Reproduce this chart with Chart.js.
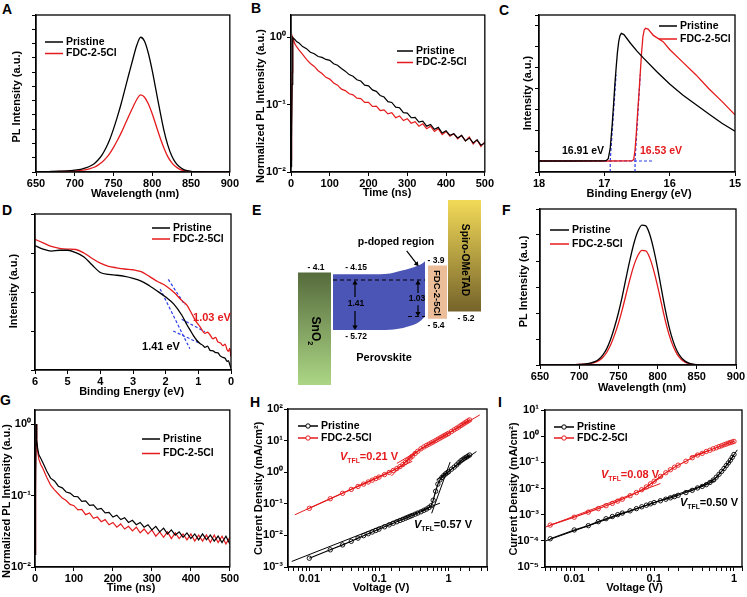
<!DOCTYPE html>
<html>
<head>
<meta charset="utf-8">
<title>FDC-2-5Cl panels</title>
<script src="https://cdn.jsdelivr.net/npm/chart.js@4.4.1/dist/chart.umd.min.js"></script>
<style>
  html, body { margin: 0; padding: 0; background: #fff; }
  body { position: relative; width: 747px; height: 597px; overflow: hidden; }
  canvas { position: absolute; }
  .tag { position: absolute; font: bold 14px/14px 'Liberation Sans', Arial, sans-serif; color: #000; }
</style>
</head>
<body>
<div class="tag" style="left:2px;top:2px">A</div>
<div class="tag" style="left:251px;top:1px">B</div>
<div class="tag" style="left:499px;top:3px">C</div>
<div class="tag" style="left:2px;top:203px">D</div>
<div class="tag" style="left:252px;top:203px">E</div>
<div class="tag" style="left:502px;top:203px">F</div>
<div class="tag" style="left:0px;top:393px">G</div>
<div class="tag" style="left:250px;top:395px">H</div>
<div class="tag" style="left:498px;top:395px">I</div>
<script>
// ---- data ----
const SERIES = ['Pristine', 'FDC-2-5Cl'];

// A / F: steady-state PL (wavelength, nm)
const WL = [650,660,670,680,690,700,705,710,715,720,725,730,735,740,745,750,755,760,765,770,775,780,785,790,795,800,805,810,815,820,825,830,835,840,845,850,855,860,870,880,890,900];
const PL_A_P = [0.01,0.01,0.02,0.03,0.04,0.066,0.085,0.113,0.15,0.21,0.29,0.42,0.59,0.83,1.13,1.51,1.94,2.41,2.93,3.45,3.96,4.44,4.72,4.58,4.15,3.54,2.83,2.12,1.46,0.94,0.57,0.33,0.18,0.094,0.047,0.024,0.014,0.009,0.005,0.003,0.002,0.002];
const PL_A_F = [0.006,0.006,0.011,0.017,0.023,0.038,0.049,0.065,0.086,0.12,0.166,0.24,0.338,0.476,0.647,0.865,1.11,1.38,1.68,1.98,2.27,2.54,2.70,2.62,2.38,2.03,1.62,1.21,0.84,0.54,0.33,0.19,0.10,0.054,0.027,0.014,0.008,0.005,0.003,0.002,0.001,0.001];
const PL_F_P = [0.001,0.002,0.003,0.006,0.012,0.025,0.035,0.05,0.08,0.13,0.22,0.38,0.62,0.98,1.45,2.0,2.65,3.38,4.08,4.70,5.15,5.38,5.35,5.02,4.45,3.72,2.90,2.10,1.42,0.90,0.53,0.29,0.15,0.07,0.032,0.015,0.007,0.004,0.002,0.001,0.001,0.001];
const PL_F_F = [0.001,0.002,0.003,0.005,0.01,0.02,0.028,0.04,0.065,0.10,0.17,0.29,0.48,0.77,1.15,1.60,2.14,2.74,3.33,3.85,4.22,4.41,4.39,4.12,3.64,3.03,2.35,1.69,1.13,0.71,0.41,0.22,0.11,0.05,0.023,0.011,0.005,0.003,0.001,0.001,0.001,0.001];

// B / G: TRPL (time, ns)
const T = [0,1,2,3,4,5,7,10,15,20,30,40,50,60,70,80,90,100,110,120,130,140,150,160,170,180,190,200,210,220,230,240,250,260,270,280,290,300,310,320,330,340,350,360,370,380,390,400,410,420,430,440,450,460,470,480,490,500];
const TR_B_P = [0.012,0.015,0.03,0.2,0.75,1.0,0.96,0.93,0.86,0.83,0.73,0.68,0.60,0.57,0.52,0.505,0.47,0.455,0.405,0.385,0.345,0.315,0.28,0.265,0.235,0.225,0.195,0.19,0.166,0.158,0.137,0.13,0.111,0.108,0.092,0.09,0.076,0.075,0.064,0.065,0.055,0.057,0.048,0.051,0.043,0.046,0.038,0.041,0.035,0.037,0.032,0.035,0.029,0.032,0.027,0.030,0.025,0.027];
const TR_B_F = [0.015,0.02,0.05,0.3,0.8,1.0,0.9,0.8,0.72,0.66,0.56,0.47,0.41,0.37,0.32,0.29,0.255,0.24,0.21,0.195,0.17,0.162,0.145,0.14,0.125,0.123,0.108,0.108,0.094,0.095,0.082,0.084,0.073,0.076,0.064,0.068,0.058,0.062,0.053,0.056,0.048,0.052,0.044,0.048,0.040,0.044,0.036,0.040,0.034,0.037,0.031,0.035,0.029,0.033,0.026,0.030,0.024,0.028];
const TR_G_P = [0.015,0.018,0.12,1.0,0.8,0.6,0.45,0.37,0.33,0.29,0.22,0.175,0.16,0.135,0.128,0.112,0.108,0.097,0.096,0.083,0.084,0.073,0.074,0.064,0.066,0.057,0.058,0.050,0.053,0.046,0.049,0.042,0.045,0.039,0.042,0.036,0.039,0.033,0.037,0.031,0.035,0.029,0.033,0.028,0.031,0.026,0.030,0.025,0.029,0.024,0.029,0.024,0.028,0.023,0.027,0.022,0.027,0.021];
const TR_G_F = [0.015,0.02,0.2,1.0,0.75,0.55,0.40,0.32,0.27,0.24,0.18,0.14,0.12,0.105,0.092,0.085,0.075,0.072,0.063,0.064,0.054,0.057,0.048,0.050,0.043,0.046,0.039,0.042,0.036,0.040,0.034,0.037,0.032,0.036,0.030,0.034,0.029,0.033,0.027,0.031,0.026,0.031,0.025,0.030,0.025,0.029,0.024,0.029,0.023,0.028,0.023,0.028,0.022,0.028,0.022,0.027,0.021,0.026];

// C: UPS cut-off (binding energy, eV)
const C_BE_P = [18,17.5,17.0,16.97,16.94,16.91,16.88,16.86,16.84,16.82,16.80,16.78,16.76,16.74,16.70,16.6,16.5,16.4,16.2,16.0,15.8,15.6,15.4,15.2,15.0];
const C_I_P = [0.07,0.07,0.071,0.074,0.085,0.15,0.30,0.42,0.55,0.66,0.76,0.83,0.87,0.883,0.875,0.82,0.77,0.725,0.64,0.56,0.49,0.43,0.37,0.31,0.26];
const C_BE_F = [18,17.0,16.6,16.57,16.55,16.53,16.51,16.49,16.47,16.45,16.43,16.41,16.39,16.37,16.33,16.25,16.1,16.0,15.8,15.6,15.4,15.2,15.0];
const C_I_F = [0.07,0.07,0.071,0.073,0.08,0.14,0.25,0.38,0.50,0.63,0.76,0.86,0.905,0.915,0.91,0.87,0.83,0.78,0.70,0.62,0.53,0.45,0.364];
const C_ONSET = [16.91, 16.53];
const C_BASE = 0.07;
const C_TAN_TOP = [[16.82, 0.62], [16.45, 0.62]];

// D: UPS valence region (binding energy, eV)
const D_BE = [6.0,5.75,5.5,5.25,5.0,4.75,4.5,4.25,4.0,3.75,3.5,3.25,3.0,2.75,2.5,2.25,2.0,1.75,1.5,1.35,1.25,1.15,1.05,0.95,0.85,0.8,0.72,0.64,0.55,0.47,0.40,0.33,0.25,0.18,0.12,0.08,0.04,0.0];
const D_I_P = [1549,1259,1122,1175,1175,1023,794,490,316,282,269,251,224,191,145,105,74,49,25,14.5,10.5,7.6,5.8,4.8,4.2,3.8,4.1,3.2,3.1,2.8,2.75,2.3,2.1,2.0,1.66,1.74,1.4,1.1];
const D_I_F = [2239,1820,1479,1318,1259,1230,1000,724,550,457,417,389,372,331,251,186,145,98,60,46,33,23,16.6,12.9,9.5,8.7,9.3,7.9,6.3,6.9,5.2,5.0,4.2,4.6,3.3,3.0,3.6,2.2];
const D_TAN = [
  [[2.17, 120], [1.26, 3.5]], [[1.77, 10], [0.95, 4.8]],
  [[1.92, 210], [1.41, 46.5]], [[1.51, 20], [0.80, 9.6]]
];

// E: energy levels (eV)
const E_SNO2 = [-4.1, -7.27];
const E_PVK = [-4.15, -5.72];
const E_FDC = [-3.9, -5.4];
const E_SPIRO = [-2.06, -5.2];
const E_BAND_CB = [-4.15,-4.15,-4.13,-4.08,-4.04,-4.0,-3.96,-3.92,-3.87,-3.78];
const E_BAND_VB = [-5.72,-5.72,-5.71,-5.69,-5.66,-5.62,-5.58,-5.53,-5.45,-5.35];
const E_GAP = [1.41, 1.03];

// H / I: SCLC (voltage V, current density mA/cm2)
const H_V = [0.01,0.02,0.03,0.04,0.05,0.06,0.07,0.08,0.09,0.1,0.12,0.14,0.16,0.18,0.2,0.22,0.24,0.26,0.28,0.3,0.33,0.36,0.4,0.44,0.48,0.52,0.56,0.6,0.65,0.7,0.75,0.8,0.85,0.9,0.95,1.0,1.1,1.2,1.3,1.4,1.5,1.6,1.7,1.8,1.9,2.0];
const H_J_P = [0.0019,0.0035,0.005,0.0065,0.0082,0.0098,0.0113,0.0128,0.0143,0.0158,0.0187,0.0215,0.0243,0.027,0.0297,0.0323,0.035,0.0376,0.0402,0.0428,0.047,0.051,0.056,0.062,0.068,0.076,0.087,0.13,0.25,0.42,0.57,0.68,0.78,0.88,0.96,1.04,1.25,1.45,1.7,2.0,2.3,2.55,2.8,3.0,3.25,3.5];
const H_J_F = [0.072,0.145,0.215,0.285,0.355,0.42,0.49,0.56,0.63,0.7,0.84,0.98,1.13,1.3,1.5,1.75,2.05,2.4,2.8,3.2,3.9,4.6,5.5,6.3,7.0,7.7,8.4,9.1,10,11,12,13,14,15,16,17,19.5,22,24.5,27,30,33,36,39,42,45];
const H_FIT_P = [[[0.0056, 0.0015], [0.75, 0.105]], [[0.57, 0.05], [1.05, 2.1]], [[0.67, 0.57], [2.5, 4.5]]];
const H_FIT_F = [[[0.0062, 0.045], [0.3, 2.2]], [[0.15, 0.75], [0.33, 4.5]], [[0.18, 1.9], [2.8, 65]]];
const H_VTFL = ['0.57', '0.21'];

const I_V = [0.005,0.01,0.015,0.02,0.025,0.03,0.035,0.04,0.05,0.06,0.07,0.08,0.09,0.1,0.12,0.14,0.16,0.18,0.2,0.25,0.3,0.35,0.4,0.45,0.5,0.55,0.6,0.65,0.7,0.75,0.8,0.85,0.9,0.95,1.0];
const I_J_P = [1.2e-4,2.6e-4,3.8e-4,5.4e-4,7e-4,8.5e-4,1.0e-3,1.15e-3,1.4e-3,1.7e-3,2.0e-3,2.3e-3,2.6e-3,2.9e-3,3.4e-3,3.9e-3,4.4e-3,4.9e-3,5.5e-3,7e-3,8.5e-3,1.05e-2,1.2e-2,1.4e-2,1.7e-2,2.1e-2,2.7e-2,3.5e-2,4.5e-2,5.8e-2,7.5e-2,9.5e-2,0.12,0.155,0.2];
const I_J_F = [4e-4,8e-4,1.25e-3,1.7e-3,2.2e-3,2.7e-3,3.3e-3,3.9e-3,5.3e-3,7e-3,9e-3,1.15e-2,1.5e-2,1.9e-2,2.9e-2,4.0e-2,5.2e-2,6.5e-2,7.8e-2,0.11,0.15,0.19,0.22,0.26,0.29,0.33,0.36,0.40,0.43,0.47,0.50,0.54,0.57,0.60,0.63];
const I_FIT_P = [[[0.0044, 1.0e-4], [0.6, 0.02]], [[0.37, 0.0117], [0.63, 0.028]], [[0.85, 0.09], [1.1, 0.3]]];
const I_FIT_F = [[[0.0044, 3.4e-4], [0.12, 0.0155]], [[0.07, 0.009], [0.13, 0.03]], [[0.28, 0.16], [0.49, 0.29]]];
const I_VTFL = ['0.50', '0.08'];

// ---- styling ----
const BLACK = '#000000', RED = '#e41a1c', BLUE = '#2f3fe8';
const FONT = "'Liberation Sans', Arial, sans-serif";
Chart.defaults.font.family = FONT;
Chart.defaults.font.weight = 'bold';
Chart.defaults.font.size = 11;
Chart.defaults.color = '#000';

const isDecade = v => Math.abs(Math.log10(v) - Math.round(Math.log10(v))) < 1e-9;
const SUP = {'-': '\u207B', '0': '\u2070', '1': '\u00B9', '2': '\u00B2', '3': '\u00B3', '4': '\u2074', '5': '\u2075'};
const powLabel = v => isDecade(v) ? '10' + String(Math.round(Math.log10(v))).split('').map(ch => SUP[ch]).join('') : '';
const numLabel = v => isDecade(v) ? String(+v.toPrecision(1)) : '';
const plain = v => String(v);

function pts(xs, ys) { return xs.map((x, i) => ({x, y: ys[i]})); }
function line(xs, ys, color, extra) {
  return Object.assign({data: pts(xs, ys), borderColor: color, borderWidth: 1.3, pointRadius: 0, fill: false, tension: 0}, extra || {});
}
function seg(p, color, extra) {
  return line([p[0][0], p[1][0]], [p[0][1], p[1][1]], color, Object.assign({borderWidth: 1}, extra || {}));
}
function axis(type, min, max, o = {}) {
  const ax = {
    type, min, max, reverse: !!o.reverse,
    border: {display: true, color: '#000', width: 1.3},
    grid: {drawOnChartArea: false, drawTicks: true, tickLength: 4, color: '#000', lineWidth: 1},
    ticks: {autoSkip: false, maxRotation: 0, padding: o.pad ?? 1, color: '#000',
            font: {size: 11, weight: 'bold'}, callback: o.label || (() => '')}
  };
  if (o.step) ax.ticks.stepSize = o.step;
  if (o.decades) ax.afterBuildTicks = s => { s.ticks = s.ticks.filter(t => isDecade(t.value)); };
  return ax;
}

function drawNote(c, n, L, T) {
  const size = n.size || 11;
  const parts = n.parts || [{t: n.text}];
  const font = p => `${p.it ? 'italic ' : ''}bold ${p.sub ? size * 0.62 : size}px ${FONT}`;
  let w = 0;
  parts.forEach(p => { c.font = font(p); p.w = c.measureText(p.t).width; w += p.w; });
  c.save();
  c.translate(n.x - L, n.y - T);
  if (n.rot) c.rotate(n.rot * Math.PI / 180);
  c.fillStyle = n.color || '#000';
  c.textBaseline = 'middle';
  c.textAlign = 'left';
  let x = -w / 2;
  parts.forEach(p => { c.font = font(p); c.fillText(p.t, x, p.sub ? size * 0.38 : 0); x += p.w; });
  c.restore();
}
function drawLegend(c, lg, L, T) {
  lg.colors.forEach((col, i) => {
    const x = lg.x - L, y = lg.y - T + i * lg.dy;
    c.strokeStyle = col; c.lineWidth = 1.5;
    c.beginPath(); c.moveTo(x, y); c.lineTo(x + lg.len, y); c.stroke();
    if (lg.marker) {
      c.lineWidth = 1; c.beginPath(); c.arc(x + lg.len / 2, y, 2.2, 0, 2 * Math.PI);
      c.fillStyle = '#fff'; c.fill(); c.stroke();
    }
    c.fillStyle = '#000'; c.font = `bold ${lg.size || 10.5}px ${FONT}`;
    c.textBaseline = 'middle'; c.textAlign = 'left';
    c.fillText(SERIES[i], x + lg.len + 3, y);
  });
}
Chart.register({
  id: 'deco',
  afterDraw(chart) {
    const d = chart.canvas._deco;
    if (!d) return;
    const c = chart.ctx, a = chart.chartArea;
    c.save();
    if (d.frame) { c.strokeStyle = '#000'; c.lineWidth = 1.3; c.strokeRect(a.left, a.top, a.right - a.left, a.bottom - a.top); }
    if (d.legend) drawLegend(c, d.legend, d.L, d.T);
    (d.notes || []).forEach(n => drawNote(c, n, d.L, d.T));
    c.restore();
  }
});

// box = canvas [left, top, width, height]; area = plot frame [l, t, r, b], page px
function panel(box, area, spec) {
  const [L, T, W, H] = box;
  const cv = document.createElement('canvas');
  cv.width = W; cv.height = H;
  cv.style.left = L + 'px'; cv.style.top = T + 'px';
  document.body.appendChild(cv);
  cv._deco = Object.assign({L, T}, spec.deco);
  const scales = spec.scales;
  if (area) {
    scales.x.afterFit = s => { s.height = T + H - area[3]; };
    scales.y.afterFit = s => { s.width = area[0] - L; };
  }
  return new Chart(cv, {
    type: 'line',
    data: {datasets: spec.datasets},
    options: {
      responsive: false, animation: false, devicePixelRatio: 1,
      layout: {autoPadding: false,
               padding: area ? {left: 0, top: area[1] - T, right: L + W - area[2], bottom: 0} : 0},
      plugins: {legend: {display: false}, tooltip: {enabled: false}},
      scales
    }
  });
}
const yTitle = (x, y, text) => ({x, y, text, rot: -90});
const xTitle = (x, y, text) => ({x, y, text});
const vtfl = (x, y, v, color) => ({x, y, color, parts: [{t: 'V', it: true}, {t: 'TFL', sub: true}, {t: '=' + v + ' V'}]});
const smooth = {cubicInterpolationMode: 'monotone'};
const dash = {borderColor: BLUE, borderWidth: 1.2, borderDash: [3, 2]};
const mark = col => ({pointRadius: 2.2, pointBorderWidth: 0.9, pointStyle: 'circle',
                      pointBorderColor: col, pointBackgroundColor: 'rgba(255,255,255,0)', borderWidth: 1.2});

// A
panel([0, 0, 240, 203], [36, 15, 231, 172], {
  scales: {x: axis('linear', 650, 900, {step: 50, label: plain}), y: axis('linear', 0, 5.5, {step: 0.5})},
  datasets: [line(WL, PL_A_P, BLACK, smooth), line(WL, PL_A_F, RED, smooth)],
  deco: {frame: true, legend: {x: 45, y: 42, dy: 11.5, len: 18, colors: [BLACK, RED]},
         notes: [yTitle(16.7, 96.7, 'PL Intensity (a.u.)'), xTitle(135, 194, 'Wavelength (nm)')]}
});

// B
panel([245, 0, 250, 203], [291, 15, 488, 172], {
  scales: {x: axis('linear', 0, 500, {step: 100, label: plain}),
           y: axis('logarithmic', 0.01, 2.15, {decades: true, label: powLabel})},
  datasets: [line(T, TR_B_P, BLACK, {borderWidth: 1.2}), line(T, TR_B_F, RED, {borderWidth: 1.2})],
  deco: {frame: true, legend: {x: 397, y: 51, dy: 11.5, len: 16, colors: [BLACK, RED]},
         notes: [yTitle(260.5, 106, 'Normalized PL Intensity (a.u.)'), xTitle(387, 192.7, 'Time (ns)')]}
});

// C
panel([493, 0, 254, 203], [539, 15, 735, 172], {
  scales: {x: axis('linear', 15, 18, {step: 1, reverse: true, label: plain}),
           y: axis('linear', 0, 1, {step: 1 / 7.5})},
  datasets: [
    line(C_BE_P, C_I_P, BLACK), line(C_BE_F, C_I_F, RED),
    line([18, 16.25], [C_BASE, C_BASE], BLUE, dash),
    line([C_ONSET[0], C_TAN_TOP[0][0]], [C_BASE, C_TAN_TOP[0][1]], BLUE, dash),
    line([C_ONSET[1], C_TAN_TOP[1][0]], [C_BASE, C_TAN_TOP[1][1]], BLUE, dash),
    line([C_ONSET[0], C_ONSET[0]], [0, C_BASE], BLUE, dash),
    line([C_ONSET[1], C_ONSET[1]], [0, C_BASE], BLUE, dash)
  ],
  deco: {frame: true, legend: {x: 659, y: 26, dy: 13, len: 18, colors: [BLACK, RED]},
         notes: [{x: 583, y: 151, size: 10.5, text: C_ONSET[0] + ' eV'},
                 {x: 661, y: 151, size: 10.5, color: RED, text: C_ONSET[1] + ' eV'},
                 yTitle(527.7, 93, 'Intensity (a.u.)'), xTitle(639, 194, 'Binding Energy (eV)')]}
});

// D
panel([0, 198, 240, 203], [35, 214, 231, 370], {
  scales: {x: axis('linear', 0, 6, {step: 1, reverse: true, label: plain}),
           y: axis('logarithmic', 1, 10000, {decades: true})},
  datasets: [line(D_BE, D_I_P, BLACK, smooth), line(D_BE, D_I_F, RED, smooth)]
    .concat(D_TAN.map(p => seg(p, BLUE, dash))),
  deco: {frame: true, legend: {x: 152, y: 228, dy: 11, len: 18, colors: [BLACK, RED]},
         notes: [{x: 212, y: 318, color: RED, text: E_GAP[1] + ' eV'}, {x: 161, y: 347, text: E_GAP[0] + ' eV'},
                 yTitle(14.2, 291, 'Intensity (a.u.)'), xTitle(131.7, 392, 'Binding Energy (eV)')]}
});

// E: energy-level diagram, x in layout columns, y in eV
const E_COL = {sno2: [8, 41], pvk: [43, 135], fdc: [138, 157], spiro: [158, 191]};
const E_BAND_X = [43, 90, 100, 107, 113, 118, 123, 127, 131, 135];
const E_ARROW_X = [65, 128];
function vgrad(chart, top, bot, c1, c2) {
  const y = chart.scales && chart.scales.y;
  if (!chart.chartArea || !y) return c1;
  const g = chart.ctx.createLinearGradient(0, y.getPixelForValue(top), 0, y.getPixelForValue(bot));
  g.addColorStop(0, c1); g.addColorStop(1, c2);
  return g;
}
// blocks sit underneath (higher order is drawn first)
function box(col, lv, bg) {
  return line(col, [lv[0], lv[0]], 'rgba(0,0,0,0)', {borderWidth: 0, order: 5, fill: {target: {value: lv[1]}}, backgroundColor: bg});
}
function arrow(x, e1, e2, headStart, headEnd, rot) {
  return line([x[0], x[1]], [e1, e2], '#000', {
    borderWidth: 1.2, pointStyle: 'triangle', pointRadius: [headStart ? 3 : 0, headEnd ? 3 : 0],
    pointRotation: rot || [0, 180], pointBackgroundColor: '#000', pointBorderWidth: 0, order: 0
  });
}
const eTopDash = E_PVK[1] + E_GAP[0], eLowDash = eTopDash - E_GAP[1];
const tip = 3 / 35.5;
panel([290, 196, 200, 194], null, {
  scales: {x: {type: 'linear', display: false, min: 0, max: 200},
           y: {type: 'linear', display: false, min: -7.41, max: -1.945}},
  datasets: [
    box(E_COL.sno2, E_SNO2, ctx => vgrad(ctx.chart, E_SNO2[0], E_SNO2[1], '#566b3c', '#acd685')),
    box(E_COL.spiro, E_SPIRO, ctx => vgrad(ctx.chart, E_SPIRO[0], E_SPIRO[1], '#f2da58', '#75632a')),
    box(E_COL.fdc, E_FDC, '#ebbd98'),
    line(E_BAND_X, E_BAND_CB, 'rgba(0,0,0,0)', Object.assign({borderWidth: 0, order: 5, fill: '+1', backgroundColor: '#4a55b6'}, smooth)),
    line(E_BAND_X, E_BAND_VB, 'rgba(0,0,0,0)', Object.assign({borderWidth: 0, order: 5}, smooth)),
    line(E_COL.pvk, [eTopDash, eTopDash], '#000', {borderWidth: 1.1, borderDash: [4, 3], order: 0}),
    line([118, 135], [eLowDash, eLowDash], '#000', {borderWidth: 1.1, borderDash: [4, 3], order: 0}),
    arrow([E_ARROW_X[0], E_ARROW_X[0]], eTopDash - tip, -4.79, true, false),
    arrow([E_ARROW_X[0], E_ARROW_X[0]], -5.185, E_PVK[1] + tip, false, true),
    arrow([E_ARROW_X[1], E_ARROW_X[1]], eTopDash - tip, -4.68, true, false),
    arrow([E_ARROW_X[1], E_ARROW_X[1]], -5.02, eLowDash + tip, false, true),
    arrow([116.7, 126.7], -3.49, -3.86, false, true, [0, 140])
  ],
  deco: {frame: false, notes: [
    {x: 316, y: 268, size: 8.5, text: '- ' + -E_SNO2[0]},
    {x: 356, y: 268, size: 8.5, text: '- ' + -E_PVK[0]},
    {x: 356, y: 337, size: 8.5, text: '- ' + -E_PVK[1]},
    {x: 436, y: 261, size: 8.5, text: '- ' + -E_FDC[0]},
    {x: 436, y: 326, size: 8.5, text: '- ' + -E_FDC[1]},
    {x: 466, y: 318.5, size: 8.5, text: '- ' + -E_SPIRO[1]},
    {x: 356, y: 304, size: 8.5, text: String(E_GAP[0])},
    {x: 417, y: 299, size: 8.5, text: String(E_GAP[1])},
    {x: 396, y: 242, size: 10.5, text: 'p-doped region'},
    {x: 384, y: 358, size: 11, text: 'Perovskite'},
    {x: 315, y: 331, size: 12, rot: 90, parts: [{t: 'SnO'}, {t: '2', sub: true}]},
    {x: 437, y: 293, size: 9.5, rot: 90, text: 'FDC-2-5Cl'},
    {x: 465, y: 260, size: 10.3, rot: 90, text: 'Spiro-OMeTAD'}
  ]}
});

// F
panel([493, 198, 254, 203], [540, 209, 736, 365], {
  scales: {x: axis('linear', 650, 900, {step: 50, label: plain}), y: axis('linear', 0, 6, {step: 1})},
  datasets: [line(WL, PL_F_P, BLACK, smooth), line(WL, PL_F_F, RED, smooth)],
  deco: {frame: true, legend: {x: 550, y: 230, dy: 14, len: 19, colors: [BLACK, RED]},
         notes: [yTitle(524.3, 281.5, 'PL Intensity (a.u.)'), xTitle(642, 387.7, 'Wavelength (nm)')]}
});

// G
panel([0, 398, 240, 199], [35, 410, 231, 567], {
  scales: {x: axis('linear', 0, 500, {step: 100, label: plain}),
           y: axis('logarithmic', 0.01, 1.57, {decades: true, label: powLabel, pad: 0})},
  datasets: [line(T, TR_G_P, BLACK, {borderWidth: 1.2}), line(T, TR_G_F, RED, {borderWidth: 1.2})],
  deco: {frame: true, legend: {x: 142, y: 439, dy: 14.5, len: 18, colors: [BLACK, RED]},
         notes: [yTitle(7.2, 501, 'Normalized PL Intensity (a.u.)'), xTitle(131, 588, 'Time (ns)')]}
});

// H
panel([245, 398, 250, 199], [288, 409, 487, 567], {
  scales: {x: axis('logarithmic', 0.00494, 3.55, {label: numLabel}),
           y: axis('logarithmic', 0.001, 100, {decades: true, label: powLabel})},
  datasets: [line(H_V, H_J_P, BLACK, mark(BLACK)), line(H_V, H_J_F, RED, mark(RED))]
    .concat(H_FIT_P.map(p => seg(p, BLACK)), H_FIT_F.map(p => seg(p, RED))),
  deco: {frame: true, legend: {x: 298, y: 426, dy: 12, len: 20, marker: true, colors: [BLACK, RED]},
         notes: [vtfl(369, 457, H_VTFL[1], RED), vtfl(443, 525, H_VTFL[0], BLACK),
                 yTitle(258.7, 488.3, 'Current Density (mA/cm\u00B2)'), xTitle(381, 587.7, 'Voltage (V)')]}
});

// I
panel([493, 398, 254, 199], [545, 410, 742, 567], {
  scales: {x: axis('logarithmic', 0.0043, 1.26, {label: numLabel}),
           y: axis('logarithmic', 1e-5, 10, {decades: true, label: powLabel, pad: 2})},
  datasets: [line(I_V, I_J_P, BLACK, mark(BLACK)), line(I_V, I_J_F, RED, mark(RED))]
    .concat(I_FIT_P.map(p => seg(p, BLACK)), I_FIT_F.map(p => seg(p, RED))),
  deco: {frame: true, legend: {x: 554, y: 427, dy: 11, len: 20, marker: true, colors: [BLACK, RED]},
         notes: [vtfl(630, 475, I_VTFL[1], RED), vtfl(709, 503, I_VTFL[0], BLACK),
                 yTitle(514, 489, 'Current Density (mA/cm\u00B2)'), xTitle(634.5, 587.7, 'Voltage (V)')]}
});
</script>
</body>
</html>
